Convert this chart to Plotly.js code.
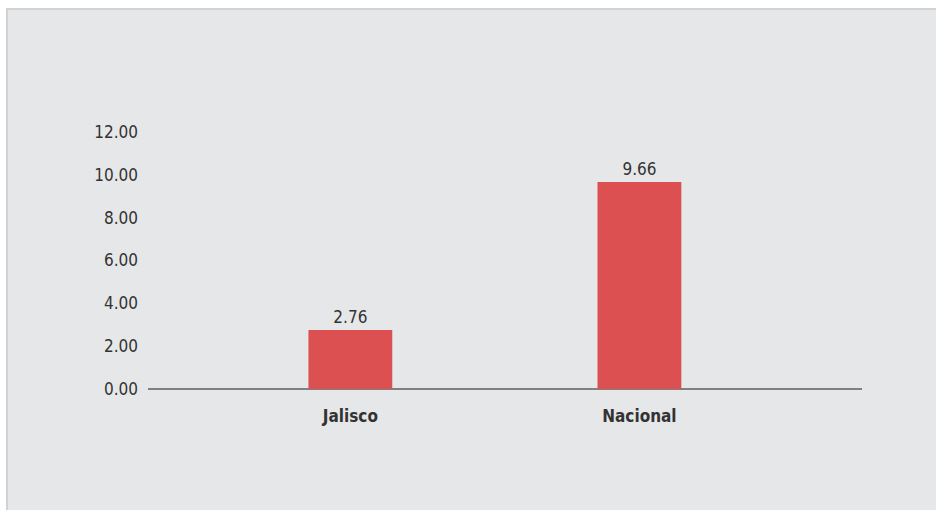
<!DOCTYPE html>
<html>
<head>
<meta charset="utf-8">
<script src="https://cdn.plot.ly/plotly-3.0.1.min.js"></script>
<style>
  html, body { margin: 0; padding: 0; background: #ffffff; width: 936px; height: 510px; overflow: hidden; }
  #frame { position: absolute; left: 6px; top: 8px; width: 930px; height: 502px; border-left: 2px solid #d1d2d4; border-top: 2px solid #d1d2d4; box-sizing: border-box; background: #e6e7e8; }
  #chart { position: absolute; left: 0; top: 0; width: 928px; height: 500px; }
</style>
</head>
<body>
<div id="frame"><div id="chart"></div></div>
<script>
const categories = ["Jalisco", "Nacional"];
const values = [2.76, 9.66];
const valueLabels = ["2.76", "9.66"];
const tickValues = [0, 2, 4, 6, 8, 10, 12];
const tickLabels = ["0.00", "2.00", "4.00", "6.00", "8.00", "10.00", "12.00"];

const fontFam = "'Liberation Sans Narrow', 'DejaVu Sans Condensed', sans-serif";

const trace = {
  type: "bar",
  x: categories,
  y: values,
  text: valueLabels,
  textposition: "outside",
  cliponaxis: false,
  textfont: { family: fontFam, size: 17, color: "#333333" },
  marker: { color: "#dc5052" },
  width: 0.29,
  hoverinfo: "none"
};

const layout = {
  width: 928,
  height: 500,
  margin: { l: 140, r: 74, t: 122, b: 121 },
  paper_bgcolor: "#e6e7e8",
  plot_bgcolor: "#e6e7e8",
  showlegend: false,
  xaxis: {
    type: "category",
    range: [-0.7, 1.77],
    showgrid: false,
    zeroline: false,
    showline: false,
    ticks: "",
    ticklabelstandoff: 15,
    tickfont: { family: fontFam, size: 17, color: "#333333", weight: "bold" }
  },
  yaxis: {
    range: [0, 12],
    tickvals: tickValues,
    ticktext: tickLabels,
    showgrid: false,
    zeroline: true,
    zerolinecolor: "#808080",
    zerolinewidth: 1.5,
    showline: false,
    ticks: "",
    ticklabelstandoff: 9,
    tickfont: { family: fontFam, size: 17, color: "#333333" }
  }
};

Plotly.newPlot("chart", [trace], layout, { displayModeBar: false, staticPlot: true });
</script>
</body>
</html>
